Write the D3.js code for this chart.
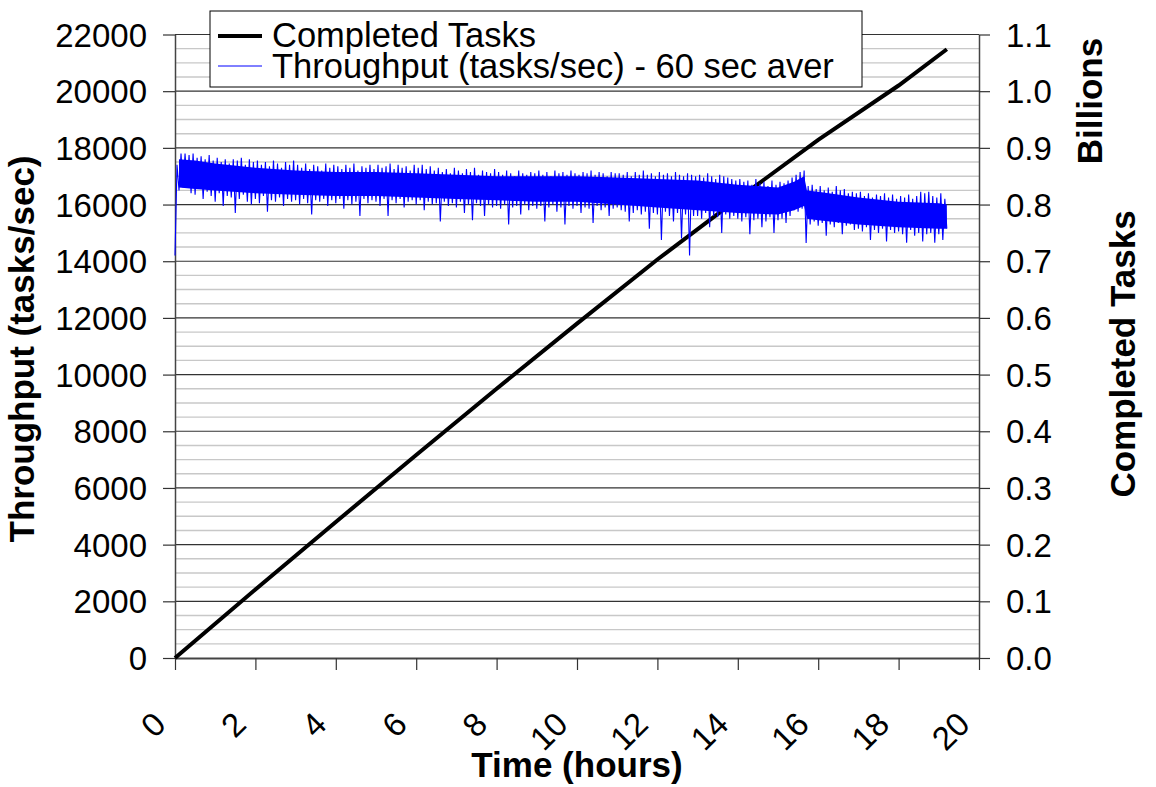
<!DOCTYPE html>
<html><head><meta charset="utf-8">
<script src="https://cdn.jsdelivr.net/npm/d3@7"></script>
<style>
body{margin:0;background:#fff}
text{font-family:"Liberation Sans",Arial,sans-serif;fill:#000}
</style>
</head><body>
<svg id="chart" width="1156" height="787"></svg>
<script>
// ---------- data ----------
const xTickValues = [0, 2, 4, 6, 8, 10, 12, 14, 16, 18, 20];
const leftTickValues = [0, 2000, 4000, 6000, 8000, 10000, 12000, 14000, 16000, 18000, 20000, 22000];
const rightTickValues = [0.0, 0.1, 0.2, 0.3, 0.4, 0.5, 0.6, 0.7, 0.8, 0.9, 1.0, 1.1];
const minorStep = 500;

// Completed tasks (billions) vs time (hours)
const completedHours = [0, 2, 4, 6, 8, 10, 12, 14, 16, 18, 19.2];
const completedBillions = [0, 0.121, 0.240, 0.358, 0.475, 0.590, 0.703, 0.810, 0.914, 1.010, 1.074];

// Throughput 60 s average: dense core band
const coreHours = [0.1, 0.5, 1, 2, 3, 4, 5, 6, 7, 8, 9, 10, 11, 12, 13, 14, 15, 15.4, 15.65, 15.72, 16, 17, 18, 19, 19.2];
const coreTop = [17600, 17550, 17450, 17300, 17200, 17150, 17150, 17100, 17050, 17000, 17000, 17000, 16950, 16900, 16850, 16700, 16600, 16800, 17000, 16500, 16450, 16250, 16100, 16050, 16000];
const coreBottom = [16600, 16550, 16500, 16400, 16350, 16300, 16300, 16250, 16200, 16150, 16100, 16100, 16000, 15900, 15800, 15700, 15650, 15800, 15950, 15500, 15450, 15300, 15200, 15150, 15150];

// Throughput samples (tasks/sec), every 0.05 h from 0 h
const throughputStart = 0, throughputStep = 0.05;
const throughput = [
 14200,17400,16500,17800,16600,17800,16700,17750,16400,17800,16350,17650,16550,17700,16200,17600,16450,17750,16300,17550,
 16100,17650,16400,17500,15950,17600,16300,17450,16250,17600,15700,17550,16200,17650,16350,17400,16100,17600,16000,17500,
 16200,17550,16050,17400,16300,17500,15750,17350,16150,17550,16100,17450,16250,17300,15950,17500,16200,17400,16100,17550,
 16150,17400,16000,17300,16200,17450,16050,17250,15650,17400,16150,17350,16100,17200,16200,17450,15950,17300,16150,17400,
 16050,17350,16200,17250,15850,17400,16150,17300,16000,17450,16100,17200,15600,17350,16200,17300,16050,17400,16150,17250,
 16100,17400,15950,17300,16200,17350,15600,17450,16150,17250,16050,17400,16200,17300,15900,17350,16100,17200,16150,17400,
 16000,17300,16150,17400,15800,17250,16100,17350,16000,17200,16050,17300,15400,17150,16100,17250,15950,17100,16050,17300,
 15900,17200,16100,17100,15700,17250,16000,17150,15450,17300,16050,17050,15950,17200,15600,17150,16000,17100,15900,17250,
 15950,17150,15850,17050,16000,17200,15300,17100,15900,17000,15950,17200,15650,17100,16000,17050,15800,17150,15950,17100,
 15850,17200,15950,17050,15400,17150,15900,17000,16000,17200,15750,17100,15900,17150,15300,17050,15950,17200,15850,17100,
 15950,17050,15700,17150,15900,17100,15850,17200,15350,17050,15950,17150,15800,17100,15900,17000,15600,17150,15850,17100,
 15900,17100,15800,17050,15750,17150,15400,17000,15700,17150,15800,17050,15650,17200,15750,17050,15150,17100,15700,17000,
 15650,17150,14750,17050,15750,17100,15600,17000,15400,17150,15700,17050,14800,17000,15650,17100,14200,17050,15600,17000,
 15600,17050,15500,16950,15700,17100,15200,17000,15600,16900,15550,17050,15000,17000,15650,16950,15500,16900,15600,16850,
 15500,16900,15400,16800,15550,16850,14950,16700,15450,16900,15500,16750,15200,16800,15400,16650,15550,16850,15000,16700,
 15450,16800,15500,16750,15350,16850,15600,16950,15800,17050,15750,17150,15850,17200,14640,16650,15300,16700,15400,16550,
 15250,16650,15350,16500,14900,16600,15300,16450,15200,16650,15350,16500,14950,16550,15250,16400,15300,16450,15100,16400,
 15150,16450,15050,16300,15200,16400,14750,16250,15100,16350,15000,16300,15150,16400,14700,16250,15100,16350,15000,16200,
 15050,16300,14950,16250,14650,16350,15100,16200,14900,16300,15000,16450,14700,16400,14950,16450,15000,16300,14650,16250,
 14950,16400,14750,16200,15150
];

const legendLabels = ["Completed Tasks", "Throughput (tasks/sec) - 60 sec aver"];

// ---------- layout ----------
const W = 1156, H = 787;
const L = 175, R = 979, T = 34.5, B = 658;
const svg = d3.select("#chart");
svg.append("rect").attr("width", W).attr("height", H).attr("fill", "#fff");

const x = d3.scaleLinear().domain([0, 20]).range([L, R]);
const yL = d3.scaleLinear().domain([0, 22000]).range([B, T]);
const yR = d3.scaleLinear().domain([0, 1.1]).range([B, T]);

// minor gridlines
const minor = d3.range(0, 22000 + 1, minorStep).filter(v => v % 2000 !== 0);
svg.append("g").selectAll("line").data(minor).join("line")
  .attr("x1", L).attr("x2", R).attr("y1", d => yL(d)).attr("y2", d => yL(d))
  .attr("stroke", "#c8c8c8").attr("stroke-width", 1.4);
// major gridlines
svg.append("g").selectAll("line").data(leftTickValues.filter(v => v > 0)).join("line")
  .attr("x1", L).attr("x2", R).attr("y1", d => yL(d)).attr("y2", d => yL(d))
  .attr("stroke", "#333").attr("stroke-width", 1.2);

// ---------- axes ----------
const fs = 33;
const gL = svg.append("g").attr("transform", `translate(${L},0)`)
  .call(d3.axisLeft(yL).tickValues(leftTickValues).tickFormat(d3.format("d")).tickSize(12).tickPadding(16).tickSizeOuter(0));
const gR = svg.append("g").attr("transform", `translate(${R},0)`)
  .call(d3.axisRight(yR).tickValues(rightTickValues).tickFormat(d3.format(".1f")).tickSize(11).tickPadding(16).tickSizeOuter(0));
const gX = svg.append("g").attr("transform", `translate(0,${B})`)
  .call(d3.axisBottom(x).tickValues(xTickValues).tickFormat(d3.format("d")).tickSize(12).tickSizeOuter(0));

[gL, gR, gX].forEach(g => {
  g.select(".domain").attr("stroke", "#444").attr("stroke-width", 1.5);
  g.selectAll(".tick line").attr("stroke", "#333").attr("stroke-width", 1.2);
  g.selectAll("text").attr("font-size", fs).attr("font-family", '"Liberation Sans",Arial,sans-serif').attr("fill", "#000");
});
gL.selectAll("text").attr("dy", "0.35em");
gR.selectAll("text").attr("dy", "0.35em");
gX.select(".domain").attr("stroke-width", 2);
gX.selectAll("text")
  .attr("y", 0).attr("x", 0).attr("dy", "0.35em")
  .attr("text-anchor", "end")
  .attr("transform", "translate(-16,60) rotate(-45)");

// ---------- series ----------
const completedData = completedHours.map((h, i) => [h, completedBillions[i]]);
svg.append("path").datum(completedData)
  .attr("fill", "none").attr("stroke", "#000").attr("stroke-width", 4)
  .attr("d", d3.line().x(d => x(d[0])).y(d => yR(d[1])));

const coreData = coreHours.map((h, i) => ({h, t: coreTop[i], b: coreBottom[i]}));
svg.append("path").datum(coreData)
  .attr("fill", "#0000ff")
  .attr("d", d3.area().x(d => x(d.h)).y0(d => yL(d.b)).y1(d => yL(d.t)));

const tpData = throughput.map((v, i) => [throughputStart + i * throughputStep, v]);
svg.append("path").datum(tpData)
  .attr("fill", "none").attr("stroke", "#0000ff").attr("stroke-width", 1.1)
  .attr("d", d3.line().x(d => x(d[0])).y(d => yL(d[1])));

// ---------- legend ----------
const lg = svg.append("g");
lg.append("rect").attr("x", 210).attr("y", 11).attr("width", 652).attr("height", 76)
  .attr("fill", "#fff").attr("stroke", "#000").attr("stroke-width", 1);
lg.append("line").attr("x1", 218).attr("x2", 262).attr("y1", 36).attr("y2", 36)
  .attr("stroke", "#000").attr("stroke-width", 4);
lg.append("line").attr("x1", 218).attr("x2", 262).attr("y1", 66).attr("y2", 66)
  .attr("stroke", "#0000ff").attr("stroke-width", 1);
lg.append("text").attr("x", 272).attr("y", 47).attr("font-size", 34.5).text(legendLabels[0]);
lg.append("text").attr("x", 272).attr("y", 78).attr("font-size", 34.5).text(legendLabels[1]);

// ---------- titles ----------
svg.append("text").attr("x", 577).attr("y", 777).attr("text-anchor", "middle")
  .attr("font-size", 35).attr("font-weight", "bold").text("Time (hours)");
svg.append("text").attr("transform", "translate(22,349) rotate(-90)").attr("dy", "0.35em")
  .attr("text-anchor", "middle").attr("font-size", 35).attr("font-weight", "bold").text("Throughput (tasks/sec)");
svg.append("text").attr("transform", "translate(1090,101) rotate(-90)").attr("dy", "0.35em")
  .attr("text-anchor", "middle").attr("font-size", 35).attr("font-weight", "bold").text("Billions");
svg.append("text").attr("transform", "translate(1123,354) rotate(-90)").attr("dy", "0.35em")
  .attr("text-anchor", "middle").attr("font-size", 35).attr("font-weight", "bold").text("Completed Tasks");
</script>
</body></html>
